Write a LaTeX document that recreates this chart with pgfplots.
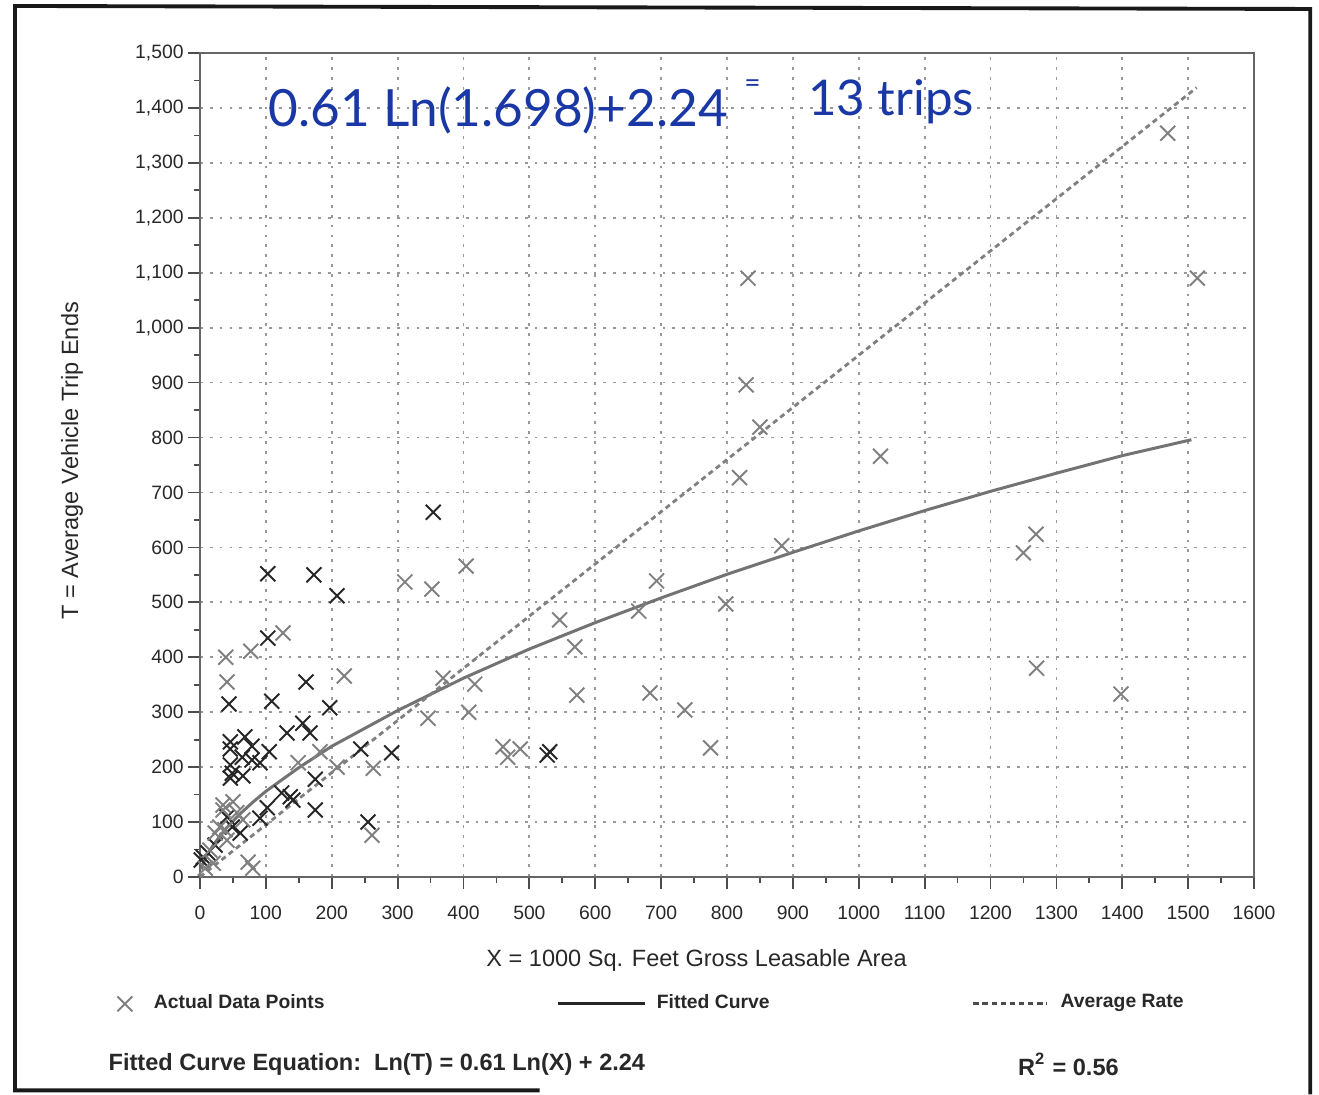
\documentclass[border=0pt]{standalone}
\usepackage{fontspec}
\setmainfont{Liberation Sans}
\newfontfamily\hand{Lato}
\usepackage{pgfplots}
\pgfplotsset{compat=1.18}
\definecolor{pen}{RGB}{25,55,165}
\definecolor{ink}{RGB}{40,40,40}
\pgfplotsset{
  legmark/.style={legend image code/.code={\path (0,-0.1cm) (0.42cm,0.1cm);
    \draw[##1] plot coordinates {(0.14cm,0cm)};}},
  legsolid/.style={legend image code/.code={\path (0,0) (0.97cm,0);
    \draw[##1, black!85] (0cm,0cm) -- (0.87cm,0cm);}},
  legdash/.style={legend image code/.code={\path (0,0) (0.86cm,0);
    \draw[##1, black!70] (0cm,0cm) -- (0.74cm,0cm);}},
}

\begin{document}
\begin{tikzpicture}
\useasboundingbox (0,0) rectangle (13.19,10.95);
\begin{axis}[
  at={(2.00cm,2.18cm)}, anchor=south west,
  scale only axis, width=10.54cm, height=8.24cm,
  xmin=0, xmax=1600, ymin=0, ymax=1500,
  xtick={0,100,...,1600}, ytick={0,100,...,1500},
  minor x tick num=1, minor y tick num=1,
  xtick pos=bottom, ytick pos=left,
  tick align=outside,
  major tick length=0.12cm, minor tick length=0.06cm,
  tick style={black!70, line width=0.5pt},
  axis line style={black!60, line width=0.6pt},
  grid=major,
  major grid style={black!40, line width=0.5pt, dash pattern=on 0.8pt off 2pt},
  /pgf/number format/assume math mode=true,
  tick label style={font=\fontsize{5.5}{6}\selectfont, text=ink},
  yticklabel style={/pgf/number format/1000 sep={,}, xshift=0.08cm},
  xticklabel style={/pgf/number format/1000 sep={}, yshift=-0.05cm},
  legend columns=3,
  legend cell align=left,
  legend style={at={(axis description cs:-0.0854,-0.154)}, anchor=west,
    draw=none, fill=none, inner sep=0pt, outer sep=0pt, column sep=0pt,
    nodes={inner sep=0pt}, font=\fontsize{5.5}{6}\selectfont\bfseries, text=ink},
]
% darker crosses (no legend entry)
\addplot[only marks, mark=x, mark size=3pt, black!85, line width=0.55pt, forget plot]
  coordinates{(103,552)(173,550)(208,512)(103,435)(161,355)(44,315)(109,320)
    (197,308)(156,280)(167,262)(132,262)(46,246)(68,255)(79,238)(46,233)
    (105,228)(64,218)(79,213)(91,208)(46,204)(49,189)(46,180)(65,184)
    (175,178)(244,233)(291,226)(124,153)(137,146)(141,140)(175,122)(102,126)
    (91,107)(255,100)(354,664)(527,222)(531,228)(5,36)(2,31)(12,44)
    (41,109)(49,91)(61,80)(23,58)};
% lighter crosses
\addplot[only marks, mark=x, mark size=3pt, black!50, line width=0.55pt, legmark]
  coordinates{(1469,1354)(1514,1090)(832,1090)(829,896)(850,819)(819,727)
    (1033,766)(883,603)(798,497)(1250,590)(1269,624)(1270,380)(1398,333)
    (693,539)(666,484)(683,335)(736,304)(775,235)(546,468)(569,419)(572,331)
    (460,237)(467,218)(486,233)(404,566)(311,537)(352,524)(369,362)(417,351)
    (346,289)(408,300)
    (126,444)(39,400)(77,411)(41,355)(219,366)(149,208)(182,228)(208,200)
    (263,198)(261,76)(73,27)(80,16)(35,122)(30,91)(23,80)(41,67)(15,49)
    (20,25)(65,104)(56,117)(35,131)(50,137)(8,16)(38,86)};
\addlegendentry{\makebox[4.03cm][l]{Actual Data Points}}
% fitted curve
\addplot[black!55, line width=0.85pt, legsolid]
  coordinates{(2,14)(5,25)(10,38)(20,58)(40,89)(60,114)(80,136)(100,156)
    (150,199)(200,238)(300,303)(400,362)(500,415)(600,463)(700,508)(800,551)
    (900,591)(1000,630)(1100,667)(1200,702)(1300,735)(1400,767)(1505,796)};
\addlegendentry{\makebox[3.15cm][l]{Fitted Curve}}
% average rate
\addplot[black!50, line width=0.8pt, dash pattern=on 1.5pt off 1.1pt, legdash]
  coordinates{(0,0)(1513,1437)};
\addlegendentry{Average Rate}
\end{axis}

\begin{scope}[x=0.01cm, y=-0.01cm, shift={(0,10.95cm)}]
  % scanned page frame
  \draw[black!90, line width=1.1pt] (540,1091) -- (15,1091) -- (15,6) -- (1311,9) -- (1311,1095);
  % axis titles
  \node[rotate=90, font=\fontsize{6.7}{8}\selectfont, text=ink] at (72,461) {T = Average Vehicle Trip Ends};
  \node[font=\fontsize{6.7}{8}\selectfont, text=ink] at (697,961) {X = 1000 Sq. Feet Gross Leasable Area};
  % equation and R^2
  \node[anchor=base west, inner sep=0pt, font=\fontsize{6.7}{8}\selectfont\bfseries, text=ink]
    at (108,1071) {Fitted Curve Equation:\ \ Ln(T) = 0.61 Ln(X) + 2.24};
  \node[anchor=base west, inner sep=0pt, font=\fontsize{6.7}{8}\selectfont\bfseries, text=ink]
    at (1018,1076) {R\textsuperscript{2} = 0.56};
  % handwritten note
  \node[anchor=base west, inner sep=0pt, font=\hand\fontsize{14.6}{16}\selectfont, text=pen]
    at (268,127) {0.61 Ln(1.698)+2.24};
  \node[anchor=base west, inner sep=0pt, font=\hand\fontsize{8}{9}\selectfont, text=pen]
    at (744,93) {=};
  \node[anchor=base west, inner sep=0pt, font=\hand\fontsize{14}{16}\selectfont, text=pen]
    at (808,116) {13 trips};
\end{scope}
\end{tikzpicture}
\end{document}
